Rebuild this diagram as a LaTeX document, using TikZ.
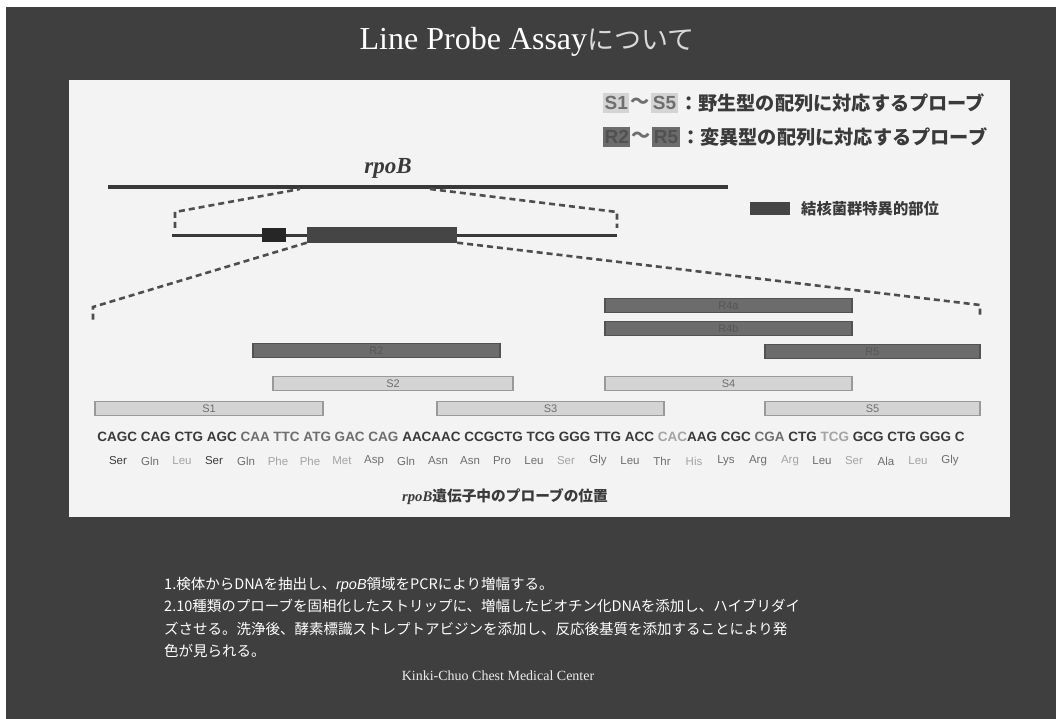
\documentclass[tikz,border=0pt]{standalone}
\usepackage{fontspec}
\setmainfont{Liberation Serif}
\setsansfont{Liberation Sans}
\newfontfamily\jp{Noto Sans CJK JP}
\definecolor{bgdark}{HTML}{3F3F3F}
\definecolor{panel}{HTML}{F3F3F3}
\definecolor{lineC}{HTML}{383838}
\definecolor{dashC}{HTML}{4E4E4E}
\definecolor{probeL}{HTML}{D4D4D4}
\definecolor{probeLb}{HTML}{999999}
\definecolor{probeD}{HTML}{6C6C6C}
\definecolor{probeDb}{HTML}{525252}
\definecolor{txtD}{HTML}{3A3A3A}
\definecolor{txtM}{HTML}{6E6E6E}
\definecolor{txtL}{HTML}{A4A4A4}
\definecolor{tbC}{HTML}{454545}
\tikzset{
  probebase/.style={line width=1.2pt, minimum height=14pt, inner sep=0pt,
    font=\sffamily\fontsize{11}{11}\selectfont},
  lprobe/.style={probebase, draw=probeLb, fill=probeL, text=txtM},
  dprobe/.style={probebase, draw=probeDb, fill=probeD, text=probeD!80!black},
  dashln/.style={draw=dashC, line width=2.6pt, dash pattern=on 6pt off 4pt},
  legtxt/.style={font=\jp\bfseries\fontsize{19.2}{19.2}\selectfont, text=txtD, inner sep=1pt, anchor=west},
  legbox/.style={font=\sffamily\bfseries\fontsize{19}{19}\selectfont, inner sep=1.5pt, anchor=west, minimum height=20pt},
}
\begin{document}
\begin{tikzpicture}[x=1pt,y=-1pt]
\useasboundingbox (0,0) rectangle (1056,719);
\fill[white] (0,0) rectangle (1056,719);
\fill[bgdark] (6,7) rectangle (1056,719);
\fill[panel] (69,80) rectangle (1010,517);

% title
\node[text=white, font=\fontsize{32}{32}\selectfont] (title) at (527,42)
  {Line Probe Assay{\jp\fontsize{27}{27}\selectfont\color{white!85!black}について}};

% legend
\node[legbox, fill=probeL, text=txtM] (lgSa) at (603,103) {S1};
\node[legtxt, text=txtM] (lgTa) at (lgSa.east) {～};
\node[legbox, fill=probeL, text=txtM] (lgSb) at (lgTa.east) {S5};
\node[legtxt] (lgA) at (lgSb.east) {：野生型の配列に対応するプローブ};
\node[legbox, fill=probeD, text=probeD!75!black] (lgRa) at (603,137) {R2};
\node[legtxt, text=txtM] (lgTb) at (lgRa.east) {～};
\node[legbox, fill=probeD, text=probeD!75!black] (lgRb) at (lgTb.east) {R5};
\node[legtxt] (lgB) at (lgRb.east) {：変異型の配列に対応するプローブ};

\node[fill=tbC, minimum width=40pt, minimum height=13pt, inner sep=0pt] (lgTB) at (770,209) {};
\node[legtxt, font=\jp\bfseries\fontsize{15.3}{15.3}\selectfont, anchor=west] (lgTBt) at (800,209) {結核菌群特異的部位};

% gene
\coordinate (rpoL) at (108,187);
\coordinate (rpoR) at (728,187);
\draw[lineC, line width=4pt] (rpoL) -- (rpoR);
\node[font=\bfseries\itshape\fontsize{23}{23}\selectfont, text=txtD] (rpoLab) at (388,168) {rpoB};
\coordinate (zA) at (300,189);
\coordinate (zB) at (430,189);
\coordinate (gL) at (172,235);
\coordinate (gR) at (617,235);
\draw[dashln] (175,228) -- (175,212) -- (zA);
\draw[dashln] (zB) -- (617,212) -- (617,228);
\draw[lineC, line width=3pt] (gL) -- (gR);
\node[fill=black!85, minimum width=24pt, minimum height=14pt, inner sep=0pt] (blk) at (274,235) {};
\node[fill=tbC, minimum width=150pt, minimum height=15pt, inner sep=0pt] (tbreg) at (382,235) {};
\draw[dashln] (tbreg.south west) -- (93,307) -- (93,320);
\draw[dashln] (tbreg.south east) -- (980,305) -- (980,318);

% probes
\node[dprobe, minimum width=247pt] (pR4a) at (728.5,305.5) {R4a};
\node[dprobe, minimum width=247pt] (pR4b) at (728.5,328.5) {R4b};
\node[dprobe, minimum width=247pt] (pR2) at (376.5,350.5) {R2};
\node[dprobe, minimum width=215pt] (pR5) at (872.5,351.5) {R5};
\node[lprobe, minimum width=240pt] (pS2) at (393,383.5) {S2};
\node[lprobe, minimum width=247pt] (pS4) at (728.5,383.5) {S4};
\node[lprobe, minimum width=228pt] (pS1) at (209,408.5) {S1};
\node[lprobe, minimum width=227pt] (pS3) at (550.5,408.5) {S3};
\node[lprobe, minimum width=215pt] (pS5) at (872.5,408.5) {S5};

% sequence
\node[font=\sffamily\bfseries\fontsize{13.5}{13.5}\selectfont, inner sep=0pt] (seq) at (531,437) {%
\color{txtD}CAGC CAG CTG AGC \color{txtM}CAA TTC ATG GAC CAG \color{txtD}AACAAC CCGCTG TCG GGG TTG ACC \color{txtL}CAC\color{txtD}AAG CGC \color{txtM}CGA \color{txtD}CTG \color{txtL}TCG \color{txtD}GCG CTG GGG C};
\foreach \aa/\cc [count=\i from 0] in {Ser/txtD,Gln/txtM,Leu/txtL,Ser/txtD,Gln/txtM,Phe/txtL,Phe/txtL,Met/txtL,Asp/txtM,Gln/txtM,Asn/txtM,Asn/txtM,Pro/txtM,Leu/txtM,Ser/txtL,Gly/txtM,Leu/txtM,Thr/txtM,His/txtL,Lys/txtM,Arg/txtM,Arg/txtL,Leu/txtM,Ser/txtL,Ala/txtM,Leu/txtL,Gly/txtM}
  \node[font=\sffamily\fontsize{11.5}{11.5}\selectfont, text=\cc, inner sep=0pt] (aa\i) at (118+32*\i,461) {\aa};

\node[font=\jp\bfseries\fontsize{14.7}{14.7}\selectfont, text=txtD] (cap) at (505,497)
  {{\rmfamily\bfseries\itshape rpoB}遺伝子中のプローブの位置};

% bottom text
\node[anchor=north west, align=left, text=white, inner sep=0pt,
  font=\jp\fontsize{14.5}{22.3}\selectfont] (steps) at (164,577)
  {1.検体からDNAを抽出し、{\sffamily\itshape rpoB}領域をPCRにより増幅する。\\
   2.10種類のプローブを固相化したストリップに、増幅したビオチン化DNAを添加し、ハイブリダイ\\
   ズさせる。洗浄後、酵素標識ストレプトアビジンを添加し、反応後基質を添加することにより発\\
   色が見られる。};
\node[text=white!92!black, font=\fontsize{14}{14}\selectfont] (credit) at (498,676) {Kinki-Chuo Chest Medical Center};
\end{tikzpicture}
\end{document}
